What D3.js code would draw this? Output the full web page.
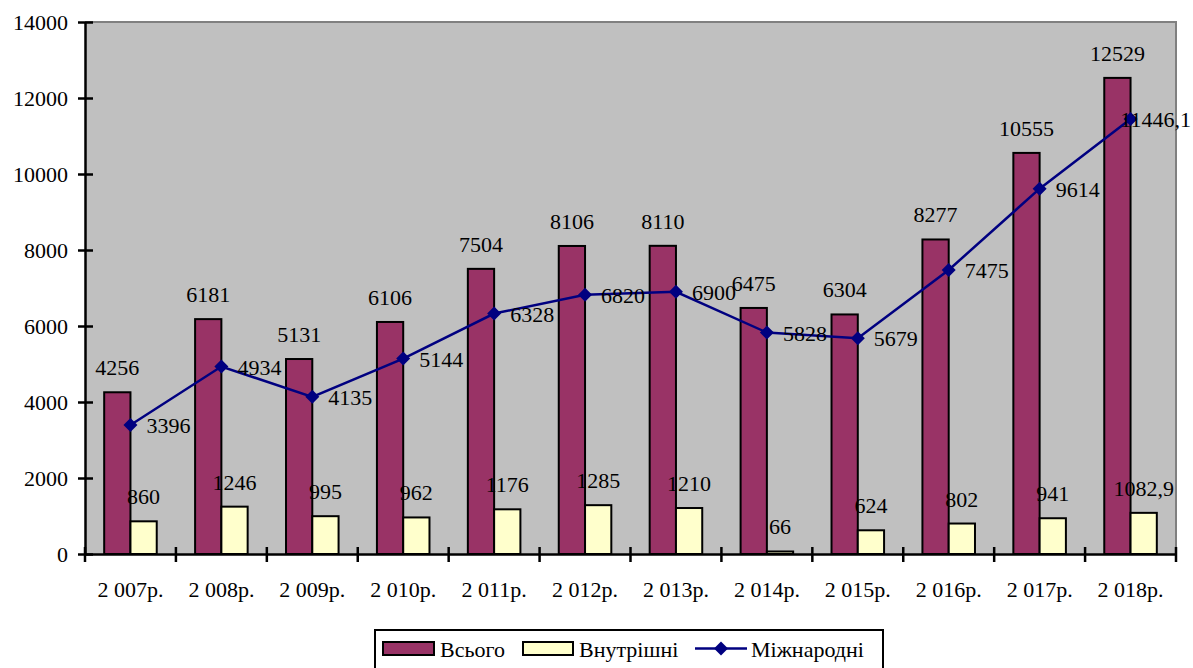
<!DOCTYPE html>
<html>
<head>
<meta charset="utf-8">
<script src="https://cdn.jsdelivr.net/npm/d3@7"></script>
<style>
  html, body { margin: 0; padding: 0; background: #fff; }
</style>
</head>
<body>
<svg id="chart" width="1193" height="668"></svg>
<script>
// Years on the x axis
const years = ["2 007р.", "2 008р.", "2 009р.", "2 010р.", "2 011р.", "2 012р.",
               "2 013р.", "2 014р.", "2 015р.", "2 016р.", "2 017р.", "2 018р."];
// Totals (bars)
const total = [4256, 6181, 5131, 6106, 7504, 8106, 8110, 6475, 6304, 8277, 10555, 12529];
// Domestic (bars)
const domestic = [860, 1246, 995, 962, 1176, 1285, 1210, 66, 624, 802, 941, 1082.9];
// International (line)
const international = [3396, 4934, 4135, 5144, 6328, 6820, 6900, 5828, 5679, 7475, 9614, 11446.1];
// Y axis ticks
const yTicks = [0, 2000, 4000, 6000, 8000, 10000, 12000, 14000];
// Series names
const seriesNames = ["Всього", "Внутрішні", "Міжнародні"];

const fmt = v => String(v).replace(".", ",");
const FONT = "Liberation Serif";
const fontSize = 22;

const svg = d3.select("#chart");
const W = 1193;
const plot = { left: 85, right: 1176, top: 22, bottom: 554 };

const x = d3.scaleBand().domain(years).range([plot.left, plot.right]).padding(0);
const xs = d3.scaleBand().domain(["total", "domestic"]).range([0, x.bandwidth()])
  .paddingInner(0).paddingOuter(0.73);
const y = d3.scaleLinear().domain([0, 14000]).range([plot.bottom, plot.top]);

// every text gets its font set on itself
const styleText = sel => sel.attr("font-family", FONT).attr("font-size", fontSize).attr("fill", "#000");

// Plot area background
svg.append("rect")
  .attr("x", plot.left).attr("y", plot.top)
  .attr("width", plot.right - plot.left).attr("height", plot.bottom - plot.top)
  .attr("fill", "#c0c0c0");
// Top and right frame
svg.append("path")
  .attr("d", `M${plot.left},${plot.top}H${plot.right}V${plot.bottom}`)
  .attr("fill", "none").attr("stroke", "#808080").attr("stroke-width", 2);

// Bars
const groups = svg.append("g").selectAll("g").data(years).join("g")
  .attr("transform", d => `translate(${x(d)},0)`);

groups.append("rect")
  .attr("x", xs("total"))
  .attr("y", (d, i) => y(total[i]))
  .attr("width", xs.bandwidth())
  .attr("height", (d, i) => y(0) - y(total[i]))
  .attr("fill", "#993366").attr("stroke", "#000").attr("stroke-width", 2);

groups.append("rect")
  .attr("x", xs("domestic"))
  .attr("y", (d, i) => y(domestic[i]))
  .attr("width", xs.bandwidth())
  .attr("height", (d, i) => y(0) - y(domestic[i]))
  .attr("fill", "#ffffcc").attr("stroke", "#000").attr("stroke-width", 2);

// Line for international
const cx = d => x(d) + x.bandwidth() / 2;
const line = d3.line().x((d, i) => cx(years[i])).y(d => y(d));
svg.append("path")
  .datum(international)
  .attr("d", line)
  .attr("fill", "none").attr("stroke", "#000080").attr("stroke-width", 2.5);

const diamond = s => `M0,${-s}L${s},0L0,${s}L${-s},0Z`;
svg.append("g").selectAll("path").data(international).join("path")
  .attr("transform", (d, i) => `translate(${cx(years[i])},${y(d)})`)
  .attr("d", diamond(7))
  .attr("fill", "#000080");

// Axes
const yAxis = d3.axisLeft(y).tickValues(yTicks).tickSizeInner(7).tickSizeOuter(0).tickPadding(10)
  .tickFormat(d => d);
const gy = svg.append("g").attr("transform", `translate(${plot.left},0)`).call(yAxis);
gy.select(".domain").attr("stroke", "#000").attr("stroke-width", 2.5);
gy.selectAll(".tick line").attr("x2", -7).attr("x1", 8).attr("stroke", "#000").attr("stroke-width", 2.5);
gy.selectAll(".tick text").call(styleText).attr("x", -17);

const xAxis = d3.axisBottom(x).tickSize(0).tickPadding(0);
const gx = svg.append("g").attr("transform", `translate(0,${plot.bottom})`).call(xAxis);
gx.select(".domain").attr("stroke", "#000").attr("stroke-width", 2.5);
gx.selectAll(".tick text").call(styleText).attr("dy", 0).attr("y", 43);
// Category separator ticks
const sepPos = years.map(d => x(d)).concat([plot.right]);
gx.append("g").selectAll("line").data(sepPos).join("line")
  .attr("x1", d => d).attr("x2", d => d).attr("y1", -7).attr("y2", 8)
  .attr("stroke", "#000").attr("stroke-width", 2.5);

// Value labels
const labels = svg.append("g");
labels.selectAll("text.tot").data(total).join("text")
  .attr("class", "tot").call(styleText)
  .attr("x", (d, i) => x(years[i]) + xs("total") + xs.bandwidth() / 2)
  .attr("y", d => y(d) - 17)
  .attr("text-anchor", "middle")
  .text(fmt);

labels.selectAll("text.dom").data(domestic).join("text")
  .attr("class", "dom").call(styleText)
  .attr("x", (d, i) => x(years[i]) + xs("domestic") + xs.bandwidth() / 2)
  .attr("y", d => y(d) - 17)
  .attr("text-anchor", "middle")
  .text(fmt);

labels.selectAll("text.int").data(international).join("text")
  .attr("class", "int").call(styleText)
  .attr("x", (d, i) => cx(years[i]) + 16)
  .attr("y", d => y(d) + 8)
  .text(fmt)
  .each(function () {
    // keep labels inside the drawing
    const w = this.getComputedTextLength();
    const xx = +this.getAttribute("x");
    if (xx + w > W - 2) this.setAttribute("x", W - 2 - w);
  });

// Legend
const lg = svg.append("g");
lg.append("rect").attr("x", 375).attr("y", 630).attr("width", 508).attr("height", 50)
  .attr("fill", "#fff").attr("stroke", "#000").attr("stroke-width", 2);
lg.append("rect").attr("x", 383).attr("y", 642).attr("width", 51).attr("height", 13)
  .attr("fill", "#993366").attr("stroke", "#000").attr("stroke-width", 2);
lg.append("text").call(styleText).attr("x", 440).attr("y", 657).text(seriesNames[0]);
lg.append("rect").attr("x", 523).attr("y", 642).attr("width", 50).attr("height", 13)
  .attr("fill", "#ffffcc").attr("stroke", "#000").attr("stroke-width", 2);
lg.append("text").call(styleText).attr("x", 579).attr("y", 657).text(seriesNames[1]);
lg.append("line").attr("x1", 695).attr("x2", 747).attr("y1", 648.5).attr("y2", 648.5)
  .attr("stroke", "#000080").attr("stroke-width", 2.5);
lg.append("path").attr("transform", "translate(721,648.5)").attr("d", diamond(7)).attr("fill", "#000080");
lg.append("text").call(styleText).attr("x", 751).attr("y", 657).text(seriesNames[2]);
</script>
</body>
</html>
